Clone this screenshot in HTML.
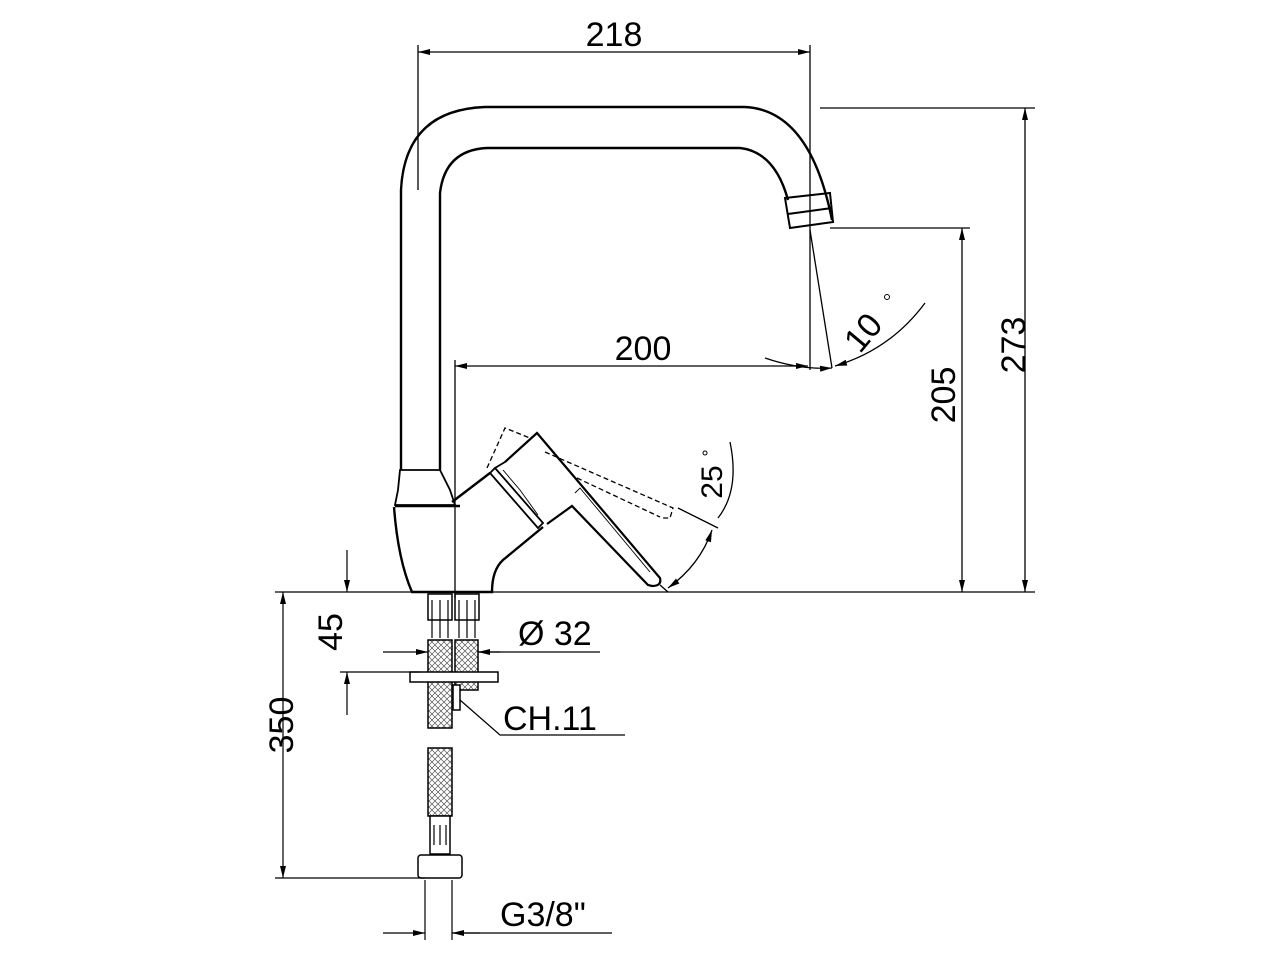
<!DOCTYPE html>
<html><head><meta charset="utf-8"><style>
html,body{margin:0;padding:0;background:#fff;}
svg{display:block;}
text{font-family:"Liberation Sans",Arial,sans-serif;fill:#000;}
</style></head><body>
<svg width="1280" height="960" viewBox="0 0 1280 960" xmlns="http://www.w3.org/2000/svg">
<defs>
<marker id="a" viewBox="0 0 12 6" refX="12" refY="3" markerWidth="12" markerHeight="6" orient="auto-start-reverse" markerUnits="userSpaceOnUse"><path d="M0,0L12,3L0,6z" fill="#000"/></marker>
<pattern id="h" width="6" height="6" patternUnits="userSpaceOnUse"><path d="M0,0L6,6M6,0L0,6" stroke="#555" stroke-width="0.7"/></pattern>
</defs>
<g fill="none" stroke="#000" stroke-width="1.3">
<line x1="418" y1="45" x2="418" y2="190"/>
<line x1="810" y1="45" x2="810" y2="370"/>
<line x1="418" y1="52" x2="810" y2="52" marker-start="url(#a)" marker-end="url(#a)"/>
<line x1="820" y1="108" x2="1035" y2="108"/>
<line x1="1025" y1="108" x2="1025" y2="592" marker-start="url(#a)" marker-end="url(#a)"/>
<line x1="830" y1="228" x2="970" y2="228"/>
<line x1="962" y1="228" x2="962" y2="592" marker-start="url(#a)" marker-end="url(#a)"/>
<line x1="455" y1="366" x2="808" y2="366" marker-start="url(#a)" marker-end="url(#a)"/>
<line x1="455" y1="360" x2="455" y2="598"/>
<line x1="275" y1="592" x2="1035" y2="592"/>
<line x1="810" y1="230" x2="832" y2="368"/>
<path d="M765,358 Q800,370 832,368" marker-end="url(#a)"/>
<path d="M925,303 Q890,350 835,366" marker-end="url(#a)"/>
<path d="M730,442 Q740,490 718,518" />
<path d="M712,530 Q700,565 668,588" marker-start="url(#a)" marker-end="url(#a)"/>
<line x1="678" y1="508" x2="718" y2="528"/>
<line x1="660" y1="585" x2="668" y2="592"/>
</g>
<g fill="none" stroke="#000" stroke-width="2.4">
<path d="M401,470 L401,190 Q405,110 485,107 L745,107 Q810,110 832,220"/>
<path d="M440,470 L440,193 Q445,150 487,148 L740,148 Q775,152 788,200"/>
<path d="M785,198 L830,193 L833,222 L790,228 Z" stroke-width="2"/>
<line x1="788" y1="214" x2="832" y2="208" stroke-width="2"/>
<path d="M400,470 L440,470 L450,490 L455,505 L395,505 L398,490 Z" stroke-width="1.8"/>
<line x1="395" y1="506" x2="460" y2="506"/>
<path d="M394,507 Q398,560 412,592 L492,592 Q492,570 503,560 L543,527"/>
<line x1="452" y1="502" x2="490" y2="473"/>
<path d="M505,462 L537,433 L660,578 Q662,586 652,586 L648,585 L572,506 L547,524" stroke-width="2.2"/>
<path d="M490,473 L495,468 L543,523 L538,528 Z" stroke-width="1.8"/>
<line x1="505" y1="462" x2="495" y2="468" stroke-width="1.8"/>
<rect x="428" y="594" width="24" height="26" stroke-width="1.5"/>
<rect x="455" y="594" width="24" height="26" stroke-width="1.5"/>
</g>
<g fill="none" stroke="#000" stroke-width="0.9">
<polyline points="503,470 520,490 538,515"/>
<polyline points="575,493 580,488 650,572"/>
</g>
<path d="M487,468 L505,428 L530,438 M545,452 L673,508 L670,518 L663,518 M577,478 L660,517" fill="none" stroke="#000" stroke-width="1.3" stroke-dasharray="5,3"/>
<g stroke="#000" stroke-width="1.5">
<rect x="428" y="640" width="24" height="88" fill="url(#h)"/>
<rect x="455" y="640" width="23" height="50" fill="url(#h)"/>
<rect x="428" y="748" width="24" height="68" fill="url(#h)"/>
<rect x="430" y="816" width="20" height="38" fill="#fff"/>
<rect x="418" y="855" width="44" height="23" rx="3" fill="#fff"/>
<rect x="410" y="672" width="88" height="10" fill="#fff"/>
<rect x="453" y="685" width="7" height="25" fill="#fff"/>
</g>
<g stroke="#000" stroke-width="1.2" fill="none">
<line x1="432" y1="600" x2="432" y2="638"/><line x1="440" y1="600" x2="440" y2="638"/><line x1="448" y1="600" x2="448" y2="638"/>
<line x1="459" y1="600" x2="459" y2="638"/><line x1="467" y1="600" x2="467" y2="638"/><line x1="475" y1="600" x2="475" y2="638"/>
<line x1="434" y1="825" x2="434" y2="845"/><line x1="440" y1="825" x2="440" y2="845"/><line x1="446" y1="825" x2="446" y2="845"/>
<line x1="283" y1="592" x2="283" y2="878" marker-start="url(#a)" marker-end="url(#a)"/>
<line x1="275" y1="878" x2="425" y2="878"/>
<line x1="347" y1="550" x2="347" y2="592" marker-end="url(#a)"/>
<line x1="347" y1="715" x2="347" y2="672" marker-end="url(#a)"/>
<line x1="340" y1="672" x2="420" y2="672"/>
<line x1="383" y1="652" x2="428" y2="652" marker-end="url(#a)"/>
<line x1="500" y1="652" x2="478" y2="652" marker-end="url(#a)"/>
<line x1="478" y1="652" x2="600" y2="652"/>
<polyline points="460,700 500,735 625,735"/>
<line x1="425" y1="880" x2="425" y2="940"/>
<line x1="452" y1="880" x2="452" y2="940"/>
<line x1="383" y1="933" x2="425" y2="933" marker-end="url(#a)"/>
<line x1="480" y1="933" x2="452" y2="933" marker-end="url(#a)"/>
<line x1="452" y1="933" x2="612" y2="933"/>
</g>
<g font-size="34">
<text x="614" y="46" text-anchor="middle">218</text>
<text x="643" y="360" text-anchor="middle">200</text>
<text transform="translate(1025,345) rotate(-90)" text-anchor="middle">273</text>
<text transform="translate(955,395) rotate(-90)" text-anchor="middle">205</text>
<text transform="translate(293,725) rotate(-90)" text-anchor="middle">350</text>
<text transform="translate(342,632) rotate(-90)" text-anchor="middle">45</text>
<text transform="translate(872,340) rotate(-50)" text-anchor="middle">10</text>
<text transform="translate(722,482) rotate(-90)" text-anchor="middle" font-size="30">25</text>
<text x="518" y="645">Ø 32</text>
<text x="503" y="730">CH.11</text>
<text x="500" y="926">G3/8"</text>
</g>
<circle cx="887" cy="297" r="2.5" fill="none" stroke="#000"/>
<circle cx="705" cy="453" r="2" fill="none" stroke="#000"/>
</svg>
</body></html>
